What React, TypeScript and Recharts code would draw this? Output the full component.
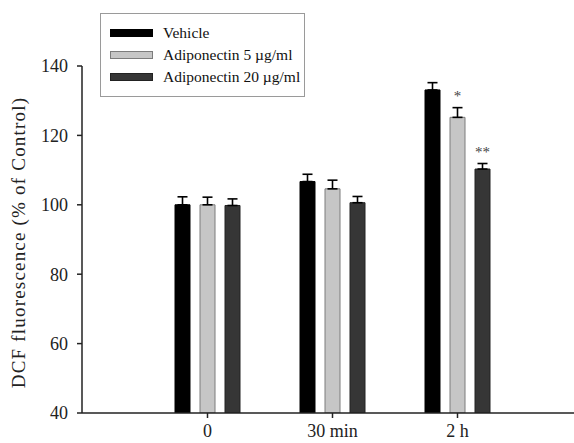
import React from 'react';
import { BarChart, Bar, XAxis, YAxis, ErrorBar, Legend, LabelList, Label } from 'recharts';

const categories = ['0', '30 min', '2 h'];
const vehicle = [100, 106.7, 133.1];
const adipo5 = [100, 104.6, 125.2];
const adipo20 = [99.8, 100.6, 110.3];
const vehicleErr = [2.3, 2.1, 2.1];
const adipo5Err = [2.2, 2.5, 2.8];
const adipo20Err = [1.9, 1.8, 1.6];
const adipo5Sig = ['', '', '*'];
const adipo20Sig = ['', '', '**'];
const yTicks = [40, 60, 80, 100, 120, 140];
const seriesNames = ['Vehicle', 'Adiponectin 5 \u00b5g/ml', 'Adiponectin 20 \u00b5g/ml'];

const Y_MIN = 40;
const Y_MAX = 140;

const data = categories.map((c, i) => ({
  cat: c,
  vehicle: vehicle[i],
  adipo5: adipo5[i],
  adipo20: adipo20[i],
  vehicleErr: [0, vehicleErr[i]],
  adipo5Err: [0, adipo5Err[i]],
  adipo20Err: [0, adipo20Err[i]],
  adipo5Sig: adipo5Sig[i],
  adipo20Sig: adipo20Sig[i],
}));

const FONT = '"Liberation Serif", "Times New Roman", serif';

const makeSigLabel = (values: number[], errs: number[]) => (props: any) => {
  const { x, y, width, height, value, index } = props;
  if (!value) return null;
  const v = values[index];
  const pxPerUnit = height / (v - Y_MIN);
  const errTop = y - errs[index] * pxPerUnit;
  return (
    <text
      x={x + width / 2}
      y={errTop - 7}
      textAnchor="middle"
      fontFamily={FONT}
      fontSize={15}
      fill="#444"
    >
      {value}
    </text>
  );
};

const LegendBox = (props: any) => {
  const payload = [...(props.payload || [])].sort(
    (a: any, b: any) => seriesNames.indexOf(a.value) - seriesNames.indexOf(b.value)
  );
  return (
    <div
      style={{
        border: '1px solid #9a9a9a',
        width: 205,
        height: 84,
        boxSizing: 'border-box',
        padding: '8px 0 0 9px',
        fontFamily: FONT,
        fontSize: 15.5,
        color: '#111',
        background: '#fff',
      }}
    >
      {payload.map((p: any, i: number) => (
        <div key={i} style={{ display: 'flex', alignItems: 'center', height: 22 }}>
          <span
            style={{
              display: 'inline-block',
              width: 43,
              height: 8,
              boxSizing: 'border-box',
              background: p.payload.fill,
              border: `1px solid ${p.payload.stroke}`,
              marginRight: 10,
            }}
          />
          <span>{p.value}</span>
        </div>
      ))}
    </div>
  );
};

const YLabel = (props: any) => {
  const { viewBox } = props;
  const cx = 18;
  const cy = viewBox.y + viewBox.height / 2 + 3;
  return (
    <text
      x={cx}
      y={cy}
      transform={`rotate(-90, ${cx}, ${cy})`}
      textAnchor="middle"
      dominantBaseline="central"
      fontFamily={FONT}
      fontSize={19}
      letterSpacing={1.2}
      fill="#222"
    >
      DCF  fluorescence (% of Control)
    </text>
  );
};

export default function App() {
  return (
    <div style={{ position: 'absolute', left: 0, top: 0, width: 574, height: 443, background: '#fff' }}>
      <BarChart
        width={574}
        height={443}
        data={data}
        margin={{ top: 66, right: 0, bottom: 0, left: 0 }}
        barSize={15}
        barGap={10}
        barCategoryGap={0}
      >
        <XAxis
          dataKey="cat"
          height={30}
          padding={{ left: 63, right: 54 }}
          tickSize={5}
          tickMargin={6}
          stroke="#222"
          strokeWidth={1.5}
          tick={{ fontFamily: FONT, fontSize: 18, fill: '#222' }}
        />
        <YAxis
          width={82}
          domain={[Y_MIN, Y_MAX]}
          ticks={yTicks}
          tickSize={5}
          tickMargin={9}
          stroke="#222"
          strokeWidth={1.5}
          allowDataOverflow
          tick={{ fontFamily: FONT, fontSize: 18, fill: '#222' }}
        >
          <Label content={<YLabel />} />
        </YAxis>
        <Legend
          layout="horizontal"
          verticalAlign="middle"
          align="center"
          wrapperStyle={{ left: 100, top: 13, width: 'auto', height: 'auto' }}
          content={<LegendBox />}
        />
        <Bar dataKey="vehicle" name={seriesNames[0]} fill="#000000" stroke="#000000" isAnimationActive={false}>
          <ErrorBar dataKey="vehicleErr" width={5} stroke="#000" strokeWidth={1.6} direction="y" />
        </Bar>
        <Bar dataKey="adipo5" name={seriesNames[1]} fill="#c6c6c6" stroke="#7c7c7c" isAnimationActive={false}>
          <ErrorBar dataKey="adipo5Err" width={5} stroke="#000" strokeWidth={1.6} direction="y" />
          <LabelList dataKey="adipo5Sig" content={makeSigLabel(adipo5, adipo5Err)} />
        </Bar>
        <Bar dataKey="adipo20" name={seriesNames[2]} fill="#363636" stroke="#222222" isAnimationActive={false}>
          <ErrorBar dataKey="adipo20Err" width={5} stroke="#000" strokeWidth={1.6} direction="y" />
          <LabelList dataKey="adipo20Sig" content={makeSigLabel(adipo20, adipo20Err)} />
        </Bar>
      </BarChart>
    </div>
  );
}
